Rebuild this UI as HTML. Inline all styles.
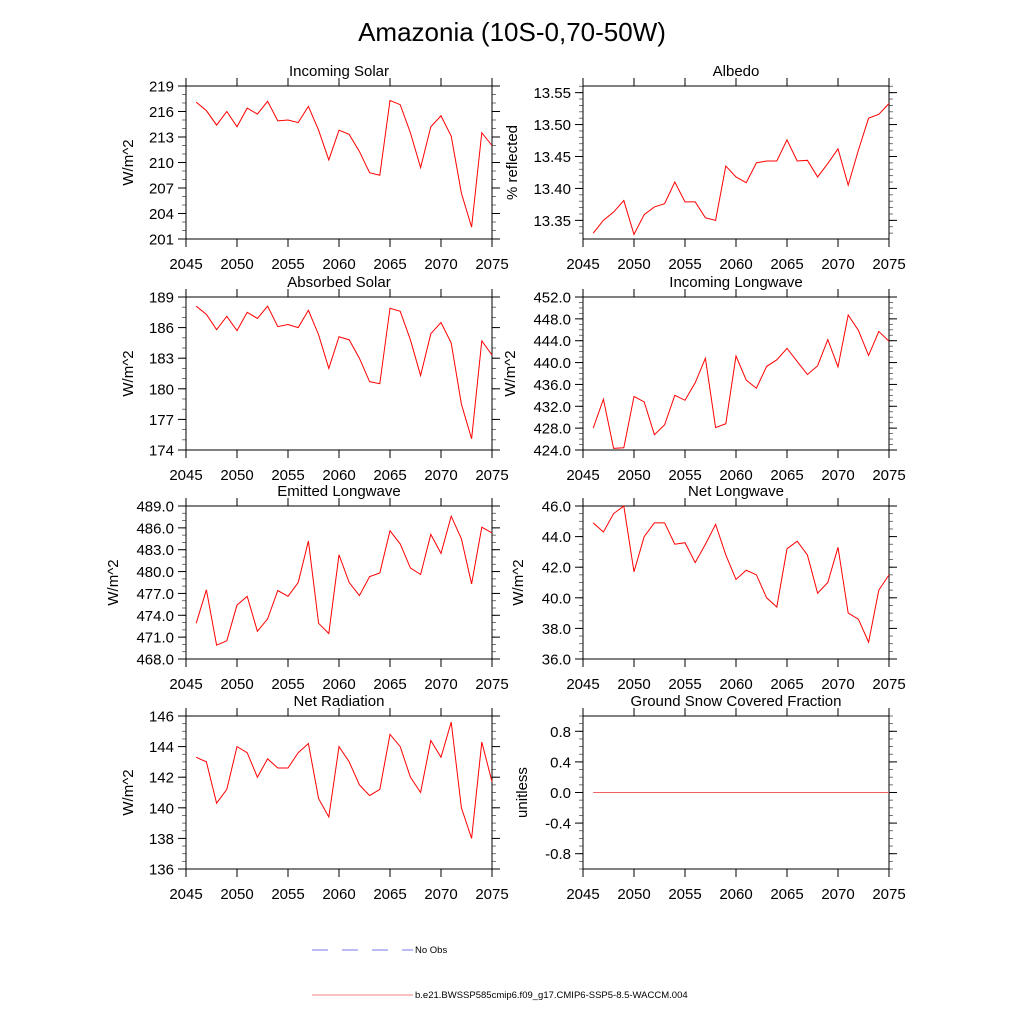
<!DOCTYPE html>
<html><head><meta charset="utf-8"><style>
html,body{margin:0;padding:0;background:#fff;}
svg{display:block;font-family:"Liberation Sans",sans-serif;}
</style></head><body>
<svg id="chart" width="1024" height="1024" viewBox="0 0 1024 1024">
<text x="512" y="41" font-size="26" text-anchor="middle">Amazonia (10S-0,70-50W)</text>
<g id="panels"></g>
<g>
<line x1="312" y1="950" x2="413" y2="950" stroke="#7777ee" stroke-width="1" stroke-dasharray="16,14"/>
<text x="415" y="953" font-size="9.5">No Obs</text>
<line x1="312" y1="995" x2="413" y2="995" stroke="#f08080" stroke-width="1"/>
<text x="415" y="998" font-size="9.5">b.e21.BWSSP585cmip6.f09_g17.CMIP6-SSP5-8.5-WACCM.004</text>
</g>
</svg>
<script>
const years = [2046,2047,2048,2049,2050,2051,2052,2053,2054,2055,2056,2057,2058,2059,2060,2061,2062,2063,2064,2065,2066,2067,2068,2069,2070,2071,2072,2073,2074,2075];
const xTicks = [2045,2050,2055,2060,2065,2070,2075];
const incomingSolar = [217.1,216.1,214.4,216.0,214.2,216.4,215.7,217.2,214.9,215.0,214.7,216.6,213.8,210.3,213.8,213.3,211.3,208.8,208.5,217.3,216.8,213.5,209.4,214.2,215.5,213.1,206.4,202.4,213.5,212.0];
const absorbedSolar = [188.1,187.3,185.8,187.1,185.7,187.5,186.9,188.1,186.1,186.3,186.0,187.7,185.3,182.0,185.1,184.8,183.0,180.7,180.5,187.9,187.6,184.8,181.3,185.4,186.5,184.5,178.5,175.1,184.7,183.3];
const albedo = [13.330,13.350,13.363,13.381,13.328,13.359,13.371,13.376,13.410,13.379,13.379,13.354,13.350,13.435,13.418,13.409,13.440,13.443,13.443,13.476,13.443,13.444,13.418,13.439,13.462,13.405,13.460,13.510,13.516,13.533];
const incomingLW = [428.0,433.3,424.3,424.4,433.8,432.8,426.8,428.6,434.0,433.1,436.3,440.8,428.1,428.8,441.2,436.8,435.3,439.3,440.5,442.6,440.2,437.8,439.4,444.2,439.2,448.7,445.9,441.3,445.7,443.9];
const emittedLW = [472.9,477.5,469.9,470.5,475.4,476.6,471.8,473.5,477.4,476.6,478.5,484.2,472.9,471.5,482.3,478.5,476.7,479.3,479.8,485.6,483.8,480.5,479.6,485.1,482.5,487.6,484.5,478.3,486.1,485.3];
const netLW = [44.9,44.3,45.5,46.0,41.7,44.0,44.9,44.9,43.5,43.6,42.3,43.5,44.8,42.8,41.2,41.8,41.5,40.0,39.4,43.2,43.7,42.8,40.3,41.0,43.3,39.0,38.6,37.1,40.5,41.5];
const netRad = [143.3,143.0,140.3,141.2,144.0,143.6,142.0,143.2,142.6,142.6,143.6,144.2,140.6,139.4,144.0,143.0,141.5,140.8,141.2,144.8,144.0,142.0,141.0,144.4,143.3,145.6,140.0,138.0,144.3,141.7];
const snowFrac = [0,0,0,0,0,0,0,0,0,0,0,0,0,0,0,0,0,0,0,0,0,0,0,0,0,0,0,0,0,0];
const ticksIS = [201,204,207,210,213,216,219];
const ticksAS = [174,177,180,183,186,189];
const ticksAlb = [13.35,13.40,13.45,13.50,13.55];
const ticksILW = [424,428,432,436,440,444,448,452];
const ticksELW = [468,471,474,477,480,483,486,489];
const ticksNLW = [36,38,40,42,44,46];
const ticksNR = [136,138,140,142,144,146];
const ticksSnow = [-0.8,-0.4,0.0,0.4,0.8];

const panels = [
 {name:'incoming-solar',title:'Incoming Solar',data:incomingSolar,ticks:ticksIS,dec:0,ymin:201,ymax:219,minor:1,x0:186,y0:86,ylab:'W/m^2',lx:133},
 {name:'albedo',title:'Albedo',data:albedo,ticks:ticksAlb,dec:2,ymin:13.3208,ymax:13.5604,minor:0.01,x0:583,y0:86,ylab:'% reflected',lx:517},
 {name:'absorbed-solar',title:'Absorbed Solar',data:absorbedSolar,ticks:ticksAS,dec:0,ymin:174,ymax:189,minor:1,x0:186,y0:297,ylab:'W/m^2',lx:133},
 {name:'incoming-longwave',title:'Incoming Longwave',data:incomingLW,ticks:ticksILW,dec:1,ymin:424,ymax:452,minor:1,x0:583,y0:297,ylab:'W/m^2',lx:515},
 {name:'emitted-longwave',title:'Emitted Longwave',data:emittedLW,ticks:ticksELW,dec:1,ymin:468,ymax:489,minor:1,x0:186,y0:506,ylab:'W/m^2',lx:118},
 {name:'net-longwave',title:'Net Longwave',data:netLW,ticks:ticksNLW,dec:1,ymin:36,ymax:46,minor:0.5,x0:583,y0:506,ylab:'W/m^2',lx:523},
 {name:'net-radiation',title:'Net Radiation',data:netRad,ticks:ticksNR,dec:0,ymin:136,ymax:146,minor:0.5,x0:186,y0:716,ylab:'W/m^2',lx:133},
 {name:'snow-fraction',title:'Ground Snow Covered Fraction',data:snowFrac,ticks:ticksSnow,dec:1,ymin:-1,ymax:1,minor:0.1,x0:583,y0:716,ylab:'unitless',lx:527}
];
const W=306, H=153, NS='http://www.w3.org/2000/svg';
const root=document.getElementById('panels');
function el(tag,attrs,parent){const e=document.createElementNS(NS,tag);for(const k in attrs)e.setAttribute(k,attrs[k]);parent.appendChild(e);return e;}
panels.forEach(p=>{
 const g=el('g',{},root);
 
 
 const xs=v=>p.x0+(v-2045)/30*W;
 const ys=v=>p.y0+H-(v-p.ymin)/(p.ymax-p.ymin)*H;
 // minor y ticks
 const start=Math.ceil(p.ymin/p.minor-1e-6);
 for(let i=start;i*p.minor<=p.ymax+1e-9;i++){
  const v=i*p.minor, y=ys(v);
  const t1=el('line',{x1:p.x0-4,y1:y,x2:p.x0,y2:y,stroke:'#555','stroke-width':0.8},g);
  
  
  const t2=el('line',{x1:p.x0+W,y1:y,x2:p.x0+W+4,y2:y,stroke:'#555','stroke-width':0.8},g);
  
  
 }
 p.ticks.forEach(v=>{
  const y=ys(v);
  const a=el('line',{x1:p.x0-8,y1:y,x2:p.x0,y2:y,stroke:'#000','stroke-width':1},g);
  
  
  const b=el('line',{x1:p.x0+W,y1:y,x2:p.x0+W+8,y2:y,stroke:'#000','stroke-width':1},g);
  
  
  const t=el('text',{x:p.x0-12,y:y+5.5,'font-size':15,'text-anchor':'end'},g);
  t.textContent=v.toFixed(p.dec);
  
  
 });
 xTicks.forEach(v=>{
  const x=xs(v);
  const a=el('line',{x1:x,y1:p.y0+H,x2:x,y2:p.y0+H+8,stroke:'#000','stroke-width':1},g);
  
  
  const b=el('line',{x1:x,y1:p.y0-8,x2:x,y2:p.y0,stroke:'#000','stroke-width':1},g);
  
  
  const t=el('text',{x:x,y:p.y0+H+30,'font-size':15,'text-anchor':'middle'},g);
  t.textContent=String(v);
  
  
 });
 const fr=el('rect',{x:p.x0,y:p.y0,width:W,height:H,fill:'none',stroke:'#000','stroke-width':1},g);
 
 
 const pts=p.data.map((v,i)=>xs(years[i]).toFixed(2)+','+ys(v).toFixed(2)).join(' ');
 const ln=el('polyline',{points:pts,fill:'none',stroke:p.name==='snow-fraction'?'#f06060':'#ff0000','stroke-width':1},g);
 
 
 const tt=el('text',{x:p.x0+W/2,y:p.y0-10,'font-size':15,'text-anchor':'middle'},g);
 tt.textContent=p.title;
 
 
 const cy=p.y0+H/2;
 const yl=el('text',{x:p.lx,y:cy,'font-size':15,'text-anchor':'middle',transform:'rotate(-90 '+p.lx+' '+cy+')'},g);
 yl.textContent=p.ylab;
 
 
});
</script>
</body></html>
